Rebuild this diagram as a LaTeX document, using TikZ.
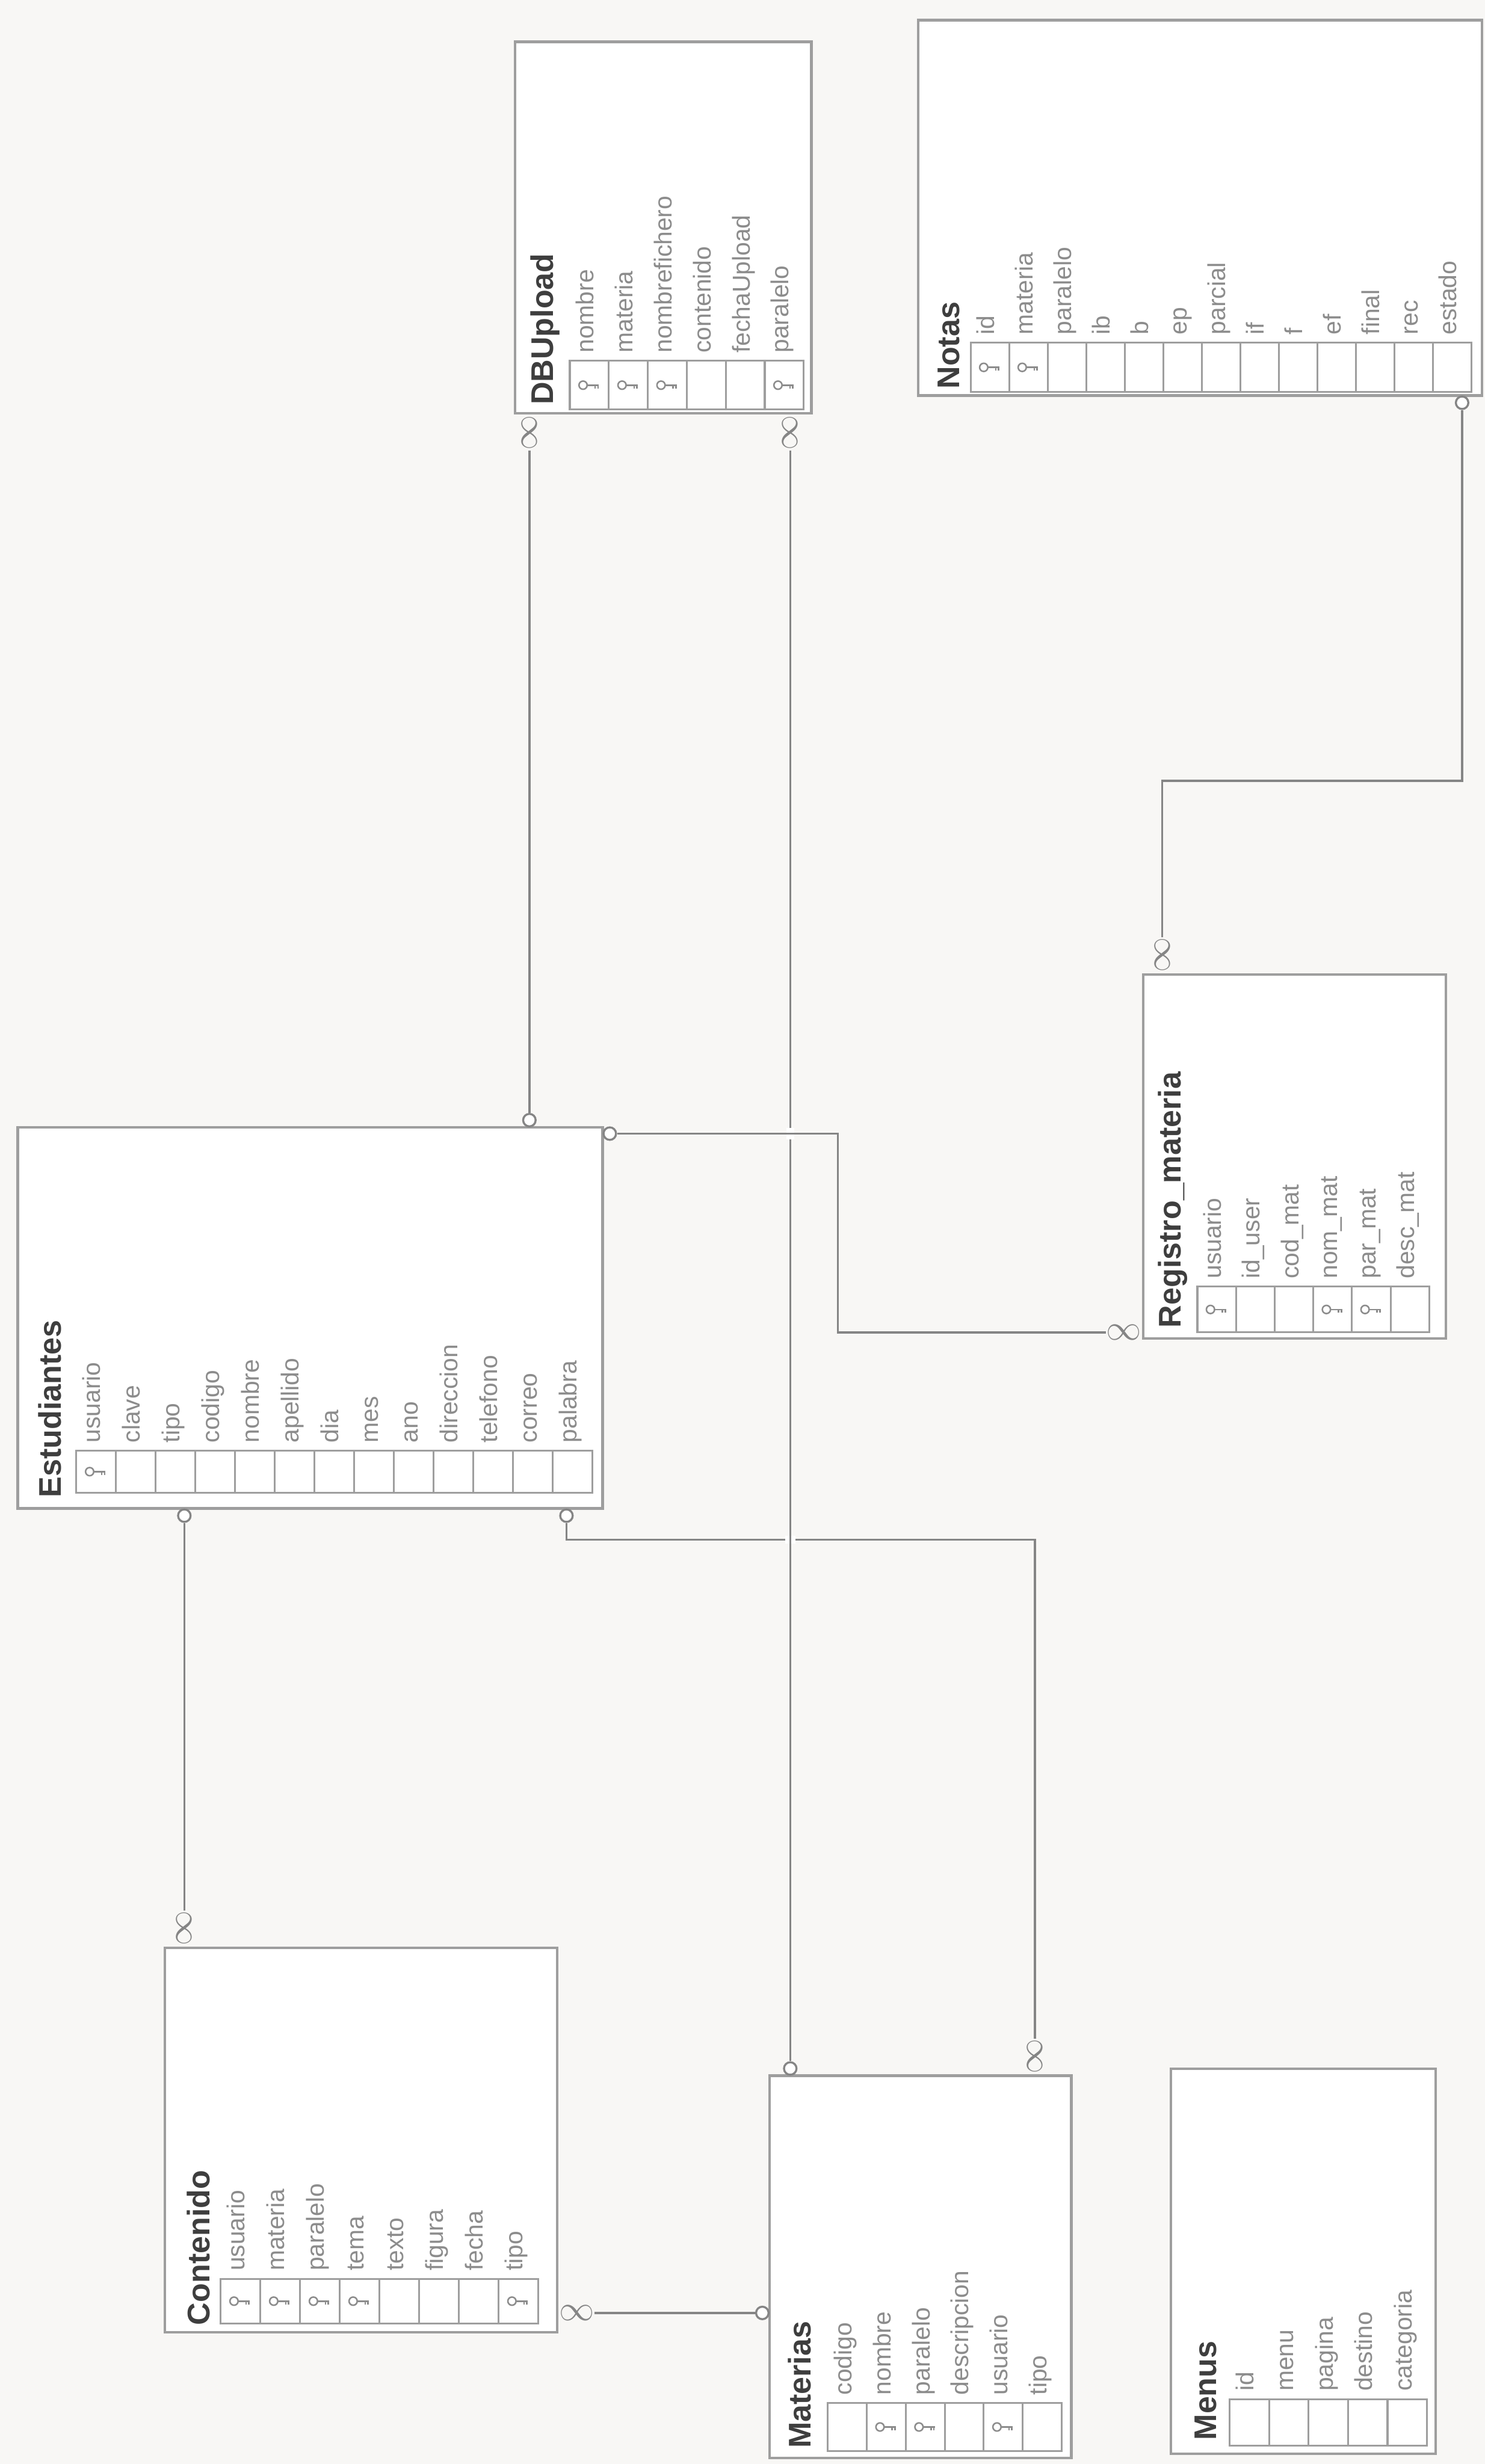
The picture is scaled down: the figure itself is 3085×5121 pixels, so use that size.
\documentclass[tikz,border=0pt]{standalone}
\usepackage{fontspec}
\setmainfont{Liberation Sans}
\usetikzlibrary{fit}
\definecolor{paper}{HTML}{F8F7F5}
\definecolor{boxline}{HTML}{9E9E9E}
\definecolor{wire}{HTML}{858585}
\definecolor{fieldtxt}{HTML}{8C8C8C}
\definecolor{titletxt}{HTML}{3E3E3E}
\tikzset{
  % table frame and its row of field cells
  tbl/.style     = {draw=boxline, line width=1.5pt, fill=white, inner sep=0pt},
  cell/.style    = {draw=boxline, line width=1.1pt},
  fld/.style     = {rotate=90, anchor=mid west, inner sep=0pt,
                    font=\fontsize{14.5}{16}\selectfont, text=fieldtxt},
  ttl/.style     = {rotate=90, anchor=west, inner sep=0pt,
                    font=\fontsize{18.5}{20}\selectfont\bfseries, text=titletxt},
  % relationships
  rel/.style     = {draw=wire, line width=1.3pt},
  keyend/.style  = {circle, draw=wire, fill=white, line width=1.2pt,
                    minimum size=0.26cm, inner sep=0pt},
  many/.style    = {inner sep=0pt, text=wire, font=\fontsize{22}{22}\selectfont},
  hop/.style     = {fill=white, draw=none},
  fkey/.pic      = {\draw[fieldtxt, line width=0.9pt] (-13,0) circle[radius=0.085cm];
                    \draw[fieldtxt, line width=0.9pt] (-4,0) -- (20,0) (12,0) -- (12,7) (18,0) -- (18,7);},
}
% x0, strip top, strip bottom, cell width, list name/key
\newcommand{\fieldrow}[5]{%
  \foreach \fname/\fk [count=\i from 0] in {#5} {
    \draw[cell] (#1+\i*#4,#2) rectangle ++(#4,#3-#2);
    \node[fld] at (#1+\i*#4+#4/2,#2-16) {\fname};
    \ifnum\fk=1 \pic at (#1+\i*#4+#4/2,#2/2+#3/2) {fkey}; \fi
  }%
}

\begin{document}
\begin{tikzpicture}[x=0.01cm,y=-0.01cm]
\fill[paper] (0,0) rectangle (3085,5121);
\useasboundingbox (0,0) rectangle (3085,5121);

% tables
\node[tbl, fit={(1070,87) (1686,859)}] (dbu) {};
\node[ttl] (t-dbu) at (1133,842) {DBUpload};
\fieldrow{1184}{750}{851}{81}{nombre/1, materia/1, nombrefichero/1, contenido/0, fechaUpload/0, paralelo/1}

\node[tbl, fit={(1908,42) (3079,822)}] (notas) {};
\node[ttl] (t-notas) at (1972,809) {Notas};
\fieldrow{2017}{712}{815}{80}{id/1, materia/1, paralelo/0, ib/0, b/0, ep/0, parcial/0, if/0, f/0, ef/0, final/0, rec/0, estado/0}

\node[tbl, fit={(37,2343) (1252,3135)}] (est) {};
\node[ttl] (t-est) at (104,3113) {Estudiantes};
\fieldrow{158}{3015}{3102}{82.5}{usuario/1, clave/0, tipo/0, codigo/0, nombre/0, apellido/0, dia/0, mes/0, ano/0, direccion/0, telefono/0, correo/0, palabra/0}

\node[tbl, fit={(2375,2025) (3004,2782)}] (reg) {};
\node[ttl] (t-reg) at (2437,2760) {Registro\_materia};
\fieldrow{2488}{2674}{2769}{80.3}{usuario/1, id\_user/0, cod\_mat/0, nom\_mat/1, par\_mat/1, desc\_mat/0}

\node[tbl, fit={(343,4048) (1158,4847)}] (cont) {};
\node[ttl] (t-cont) at (412,4833) {Contenido};
\fieldrow{458}{4736}{4829}{82.5}{usuario/1, materia/1, paralelo/1, tema/1, texto/0, figura/0, fecha/0, tipo/1}

\node[tbl, fit={(1599,4314) (2226,5108)}] (mat) {};
\node[ttl] (t-mat) at (1662,5089) {Materias};
\fieldrow{1720}{4994}{5094}{81}{codigo/0, nombre/1, paralelo/1, descripcion/0, usuario/1, tipo/0}

\node[tbl, fit={(2433,4300) (2983,5100)}] (menus) {};
\node[ttl] (t-menus) at (2505,5072) {Menus};
\fieldrow{2555}{4986}{5083}{82}{id/0, menu/0, pagina/0, destino/0, categoria/0}

% relationship ends
\node[many, rotate=90] (m1) at (1100,899) {$\infty$};
\node[keyend] (k1) at (1100,2328) {};
\node[many, rotate=90] (m2) at (1642,899) {$\infty$};
\node[keyend] (k2) at (1642,4299) {};
\node[keyend] (k3) at (1267,2356) {};
\node[many] (m3) at (2335,2769) {$\infty$};
\node[keyend] (k4) at (3038,837) {};
\node[many, rotate=90] (m4) at (2415,1985) {$\infty$};
\node[keyend] (k5) at (383,3150) {};
\node[many, rotate=90] (m5) at (383,4008) {$\infty$};
\node[keyend] (k6) at (1177,3150) {};
\node[many, rotate=90] (m6) at (2150,4274) {$\infty$};
\node[many] (m7) at (1198,4807) {$\infty$};
\node[keyend] (k7) at (1584,4807) {};
\coordinate (c3) at (1741,2560);
\coordinate (c4) at (2700,1623);
\coordinate (c6) at (1600,3200);

% relationships, crossings drawn with a gap
\draw[rel] (k6) |- (c6) -| (m6);
\fill[hop] (1631,3192) rectangle (1653,3208);
\draw[rel] (m2) -- (k2);
\fill[hop] (1634,2344) rectangle (1650,2368);
\draw[rel] (k3) -| (c3) |- (m3);
\draw[rel] (m1) -- (k1);
\draw[rel] (k4) |- (c4) -| (m4);
\draw[rel] (k5) -- (m5);
\draw[rel] (m7) -- (k7);
\end{tikzpicture}
\end{document}
